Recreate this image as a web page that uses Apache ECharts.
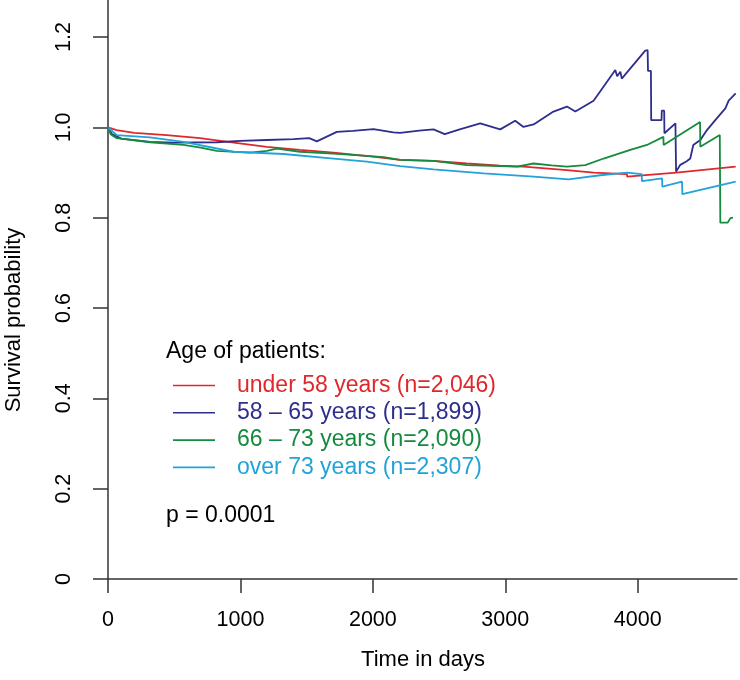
<!DOCTYPE html>
<html>
<head>
<meta charset="utf-8">
<script src="https://cdn.jsdelivr.net/npm/echarts@6/dist/echarts.min.js"></script>
<style>html,body{margin:0;padding:0;background:#fff}#c{width:740px;height:680px}</style>
</head>
<body>
<div id="c"></div>
<script>
// ---- data ----
const seriesNames = ["under 58 years (n=2,046)", "58 \u2013 65 years (n=1,899)", "66 \u2013 73 years (n=2,090)", "over 73 years (n=2,307)"];
const xTicks = [0, 1000, 2000, 3000, 4000];
const yTicks = [0, 0.2, 0.4, 0.6, 0.8, 1.0, 1.2];

const redT = [0, 65, 200, 443, 695, 950, 1199, 1450, 1703, 2000, 2206, 2458, 2710, 2960, 3138, 3140, 3466, 3667, 3919, 3921, 4292, 4740];
const redS = [1.0, 0.994, 0.988, 0.983, 0.976, 0.966, 0.957, 0.950, 0.944, 0.935, 0.928, 0.926, 0.920, 0.915, 0.913, 0.9115, 0.9055, 0.8996, 0.8966, 0.8907, 0.8996, 0.913];

const blueT = [0, 30, 100, 317, 500, 821, 1000, 1199, 1400, 1520, 1577, 1728, 1850, 2005, 2155, 2206, 2350, 2458, 2543, 2650, 2811, 2962, 3075, 3138, 3214, 3364, 3466, 3529, 3667, 3831, 3845, 3869, 3880, 4057, 4075, 4078, 4100, 4102, 4180, 4182, 4200, 4202, 4285, 4290, 4322, 4370, 4397, 4420, 4473, 4523, 4586, 4662, 4687, 4740];
const blueS = [1.0, 0.985, 0.975, 0.968, 0.966, 0.967, 0.970, 0.972, 0.974, 0.976, 0.969, 0.990, 0.992, 0.996, 0.989, 0.988, 0.993, 0.9955, 0.985, 0.995, 1.009, 0.9955, 1.0147, 1.001, 1.0065, 1.035, 1.046, 1.035, 1.059, 1.127, 1.113, 1.123, 1.108, 1.170, 1.171, 1.125, 1.125, 1.016, 1.016, 1.037, 1.037, 0.987, 1.009, 0.902, 0.917, 0.925, 0.931, 0.961, 0.972, 0.994, 1.016, 1.042, 1.059, 1.075];

const greenT = [0, 20, 65, 317, 570, 700, 821, 1073, 1200, 1275, 1450, 1703, 1900, 2080, 2206, 2458, 2710, 2900, 3088, 3214, 3350, 3466, 3604, 3743, 3944, 4070, 4194, 4196, 4471, 4473, 4620, 4624, 4680, 4700, 4720];
const greenS = [1.0, 0.985, 0.976, 0.967, 0.961, 0.955, 0.948, 0.944, 0.948, 0.953, 0.946, 0.942, 0.938, 0.934, 0.928, 0.926, 0.9166, 0.915, 0.913, 0.920, 0.916, 0.913, 0.9166, 0.931, 0.950, 0.961, 0.979, 0.961, 1.012, 0.957, 0.983, 0.789, 0.789, 0.799, 0.800];

const cyanT = [0, 65, 317, 570, 947, 1325, 1703, 1955, 2206, 2458, 2837, 3214, 3478, 3717, 3919, 4030, 4032, 4184, 4186, 4335, 4337, 4740];
const cyanS = [1.0, 0.983, 0.978, 0.968, 0.946, 0.941, 0.931, 0.924, 0.914, 0.907, 0.898, 0.8907, 0.885, 0.894, 0.8996, 0.8966, 0.881, 0.887, 0.8686, 0.8796, 0.852, 0.8796];

const colors = ["#e0282c", "#2e2e8c", "#168a3e", "#22a3d8"];
const FONT = "Liberation Sans, Arial, Helvetica, sans-serif";

function pairs(t, s) { return t.map((v, i) => [v, s[i]]); }
const allT = [redT, blueT, greenT, cyanT];
const allS = [redS, blueS, greenS, cyanS];

const chart = echarts.init(document.getElementById('c'), null, {renderer: 'canvas'});
chart.setOption({
  animation: false,
  backgroundColor: '#fff',
  textStyle: {fontFamily: FONT},
  grid: {left: 108, right: 3, top: 0, bottom: 101, containLabel: false},
  xAxis: {
    type: 'value', min: 0, max: 4750,
    axisLine: {show: true, onZero: false, lineStyle: {color: '#333', width: 1.5}},
    axisTick: {show: true, length: 14, inside: false, customValues: xTicks, lineStyle: {color: '#333', width: 1.5}},
    axisLabel: {customValues: xTicks, fontSize: 21.5, color: '#000', margin: 30, fontFamily: FONT,
      formatter: v => String(v)},
    splitLine: {show: false}
  },
  yAxis: {
    type: 'value', min: 0, max: 1.282,
    axisLine: {show: true, onZero: false, lineStyle: {color: '#333', width: 1.5}},
    axisTick: {show: true, length: 15, inside: false, customValues: yTicks, lineStyle: {color: '#333', width: 1.5}},
    axisLabel: {customValues: yTicks, fontSize: 21.5, color: '#000', margin: 33, rotate: 90, fontFamily: FONT,
      formatter: v => v === 0 ? '0' : v.toFixed(1)},
    splitLine: {show: false}
  },
  legend: {
    show: true, orient: 'vertical', left: 168, top: 369,
    icon: 'rect', itemWidth: 42, itemHeight: 1.6, itemGap: 4.3,
    selectedMode: false,
    data: seriesNames.map((n, i) => ({name: n, textStyle: {color: colors[i]}})),
    textStyle: {fontSize: 23, fontFamily: FONT, padding: [0, 0, 0, 17], lineHeight: 23}
  },
  graphic: [
    {type: 'text', x: 166, y: 352, style: {text: 'Age of patients:', font: '23px ' + FONT, fill: '#000', verticalAlign: 'middle'}},
    {type: 'text', x: 166, y: 516, style: {text: 'p = 0.0001', font: '23px ' + FONT, fill: '#000', verticalAlign: 'middle'}},
    {type: 'text', x: 423, y: 660, style: {text: 'Time in days', font: '22px ' + FONT, fill: '#000', align: 'center', verticalAlign: 'middle'}},
    {type: 'text', x: 14, y: 320, rotation: Math.PI / 2, style: {text: 'Survival probability', font: '22px ' + FONT, fill: '#000', align: 'center', verticalAlign: 'middle'}}
  ],
  series: seriesNames.map((n, i) => ({
    name: n, type: 'line', data: pairs(allT[i], allS[i]),
    showSymbol: false, symbol: 'none', color: colors[i],
    lineStyle: {width: 1.8, color: colors[i]}, clip: true
  }))
});
</script>
</body>
</html>
